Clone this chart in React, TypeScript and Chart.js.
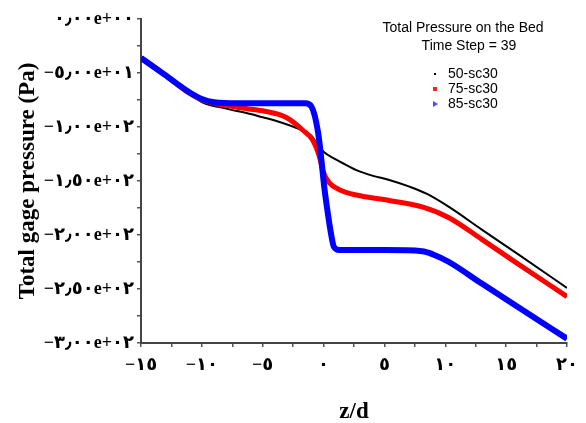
import React, { useEffect, useRef } from "react";
import { Chart, registerables } from "chart.js";

Chart.register(...registerables);

// ---- data ----
const seriesNames = ["50-sc30", "75-sc30", "85-sc30"];

const blackZ = [-15, -13, -11, -10, -8, -6, -5, -4, -2, -1, -0.5, 0, 1, 2, 2.7, 4, 5.4, 7, 8.5, 10.3, 13, 16, 20];
const blackP = [-36, -52, -69, -77, -83, -88, -91, -94, -102, -108, -116, -123, -130, -136, -140, -145, -149, -155, -162, -174, -195, -218, -249];

const redZ = [-15, -13, -11, -10, -9, -8, -7, -5, -3.5, -2.8, -1.7, -0.9, -0.33, -0.08, 0.5, 1.3, 2.7, 5.4, 8.1, 10.3, 13, 16, 20];
const redP = [-36, -52, -69, -75, -78, -80, -82, -85, -89, -93, -103, -112, -128, -140, -152, -158, -163, -168, -174, -184, -204, -227, -257];

const blueZ = [-15, -13, -11, -10, -9, -7, -5, -3, -2, -1.5, -1.0, -0.45, -0.2, 0.05, 0.35, 0.6, 0.85, 1.3, 5, 8.1, 9, 10.3, 13, 16, 20];
const blueP = [-36, -52, -68, -74, -77, -78, -78, -78, -78, -78, -81, -105, -128, -155, -180, -198, -211, -214, -214, -215, -218, -225, -245, -267, -296];

const xTickValues = [-15, -10, -5, 0, 5, 10, 15, 20];
const xTickLabels = ["−١٥", "−١٠", "−٥", "٠", "٥", "١٠", "١٥", "٢٠"];
const yTickValues = [0, -50, -100, -150, -200, -250, -300];
const yTickLabels = ["٠٫٠٠e+٠٠", "−٥٫٠٠e+٠١", "−١٫٠٠e+٠٢", "−١٫٥٠e+٠٢", "−٢٫٠٠e+٠٢", "−٢٫٥٠e+٠٢", "−٣٫٠٠e+٠٢"];

const legendTitle = ["Total Pressure on the Bed", "Time Step = 39"];
const xTitle = "z/d";
const yTitle = "Total gage pressure (Pa)";

const toPoints = (xs: number[], ys: number[]) => xs.map((x, i) => ({ x, y: ys[i] }));

const legendPlugin = {
  id: "customLegend",
  afterDraw(chart: any) {
    const ctx = chart.ctx as CanvasRenderingContext2D;
    const area = chart.chartArea;
    const cx = area.right - 104;
    ctx.save();
    ctx.fillStyle = "#000";
    ctx.font = '14px "Liberation Sans", Arial, sans-serif';
    ctx.textAlign = "center";
    ctx.textBaseline = "middle";
    ctx.fillText(legendTitle[0], cx, area.top + 9);
    ctx.fillText(legendTitle[1], cx + 6, area.top + 27);
    ctx.textAlign = "left";
    const mx = area.right - 132;
    const tx = area.right - 119;
    const ys = [area.top + 55, area.top + 70, area.top + 85];
    seriesNames.forEach((name, i) => {
      ctx.fillStyle = "#000";
      ctx.fillText(name, tx, ys[i]);
    });
    // markers
    ctx.fillStyle = "#000";
    ctx.fillRect(mx - 1, ys[0] - 1, 2, 2);
    ctx.fillStyle = "#ff2020";
    ctx.fillRect(mx - 2, ys[1] - 2, 4, 4);
    ctx.fillStyle = "#4a4aff";
    ctx.beginPath();
    ctx.moveTo(mx - 2, ys[2] - 3);
    ctx.lineTo(mx + 3, ys[2]);
    ctx.lineTo(mx - 2, ys[2] + 3);
    ctx.closePath();
    ctx.fill();
    ctx.restore();
  },
};

export default function App() {
  const ref = useRef<HTMLCanvasElement | null>(null);

  useEffect(() => {
    document.body.style.margin = "0";
    if (!ref.current) return;
    const tickFont = { family: '"Liberation Serif", "DejaVu Serif", "DejaVu Sans", serif', size: 18, weight: "bold" as const };
    const titleFont = { family: '"Liberation Serif", "Times New Roman", serif', size: 23, weight: "bold" as const };
    const chart = new Chart(ref.current, {
      type: "scatter",
      data: {
        datasets: [
          {
            label: seriesNames[0],
            data: toPoints(blackZ, blackP),
            showLine: true,
            borderColor: "#000000",
            borderWidth: 2,
            pointRadius: 0,
            cubicInterpolationMode: "monotone",
            order: 3,
          },
          {
            label: seriesNames[1],
            data: toPoints(redZ, redP),
            showLine: true,
            borderColor: "#ff0000",
            borderWidth: 5,
            pointRadius: 0,
            cubicInterpolationMode: "monotone",
            order: 2,
          },
          {
            label: seriesNames[2],
            data: toPoints(blueZ, blueP),
            showLine: true,
            borderColor: "#0000ff",
            borderWidth: 6,
            pointRadius: 0,
            cubicInterpolationMode: "monotone",
            order: 1,
          },
        ],
      },
      options: {
        animation: false,
        responsive: false,
        maintainAspectRatio: false,
        layout: { padding: { top: 19, right: 19, left: 0, bottom: 0 } },
        plugins: { legend: { display: false }, tooltip: { enabled: false } },
        scales: {
          x: {
            type: "linear",
            min: -15,
            max: 20,
            afterBuildTicks: (scale: any) => {
              const t = [];
              for (let v = -15; v <= 20; v += 2.5) t.push({ value: v });
              scale.ticks = t;
            },
            afterFit: (scale: any) => {
              scale.height = 80;
            },
            ticks: {
              autoSkip: false,
              maxRotation: 0,
              color: "#000",
              font: tickFont,
              padding: 8,
              callback: (v: any) => {
                const i = xTickValues.indexOf(Number(v));
                return i >= 0 ? xTickLabels[i] : "";
              },
            },
            grid: { display: true, drawOnChartArea: false, drawTicks: true, tickLength: 4, color: "#555", lineWidth: 1.5 },
            border: { display: true, color: "#444", width: 2 },
            title: { display: true, text: xTitle, color: "#000", font: titleFont, padding: { top: 0, bottom: -3 } },
          },
          y: {
            type: "linear",
            min: -300,
            max: 0,
            afterBuildTicks: (scale: any) => {
              const t = [];
              for (let v = -300; v <= 0; v += 25) t.push({ value: v });
              scale.ticks = t;
            },
            afterFit: (scale: any) => {
              scale.width = 141;
            },
            ticks: {
              autoSkip: false,
              color: "#000",
              font: tickFont,
              padding: 3,
              callback: (v: any) => {
                const i = yTickValues.indexOf(Number(v));
                return i >= 0 ? yTickLabels[i] : "";
              },
            },
            grid: { display: true, drawOnChartArea: false, drawTicks: true, tickLength: 4, color: "#555", lineWidth: 1.5 },
            border: { display: true, color: "#444", width: 2 },
            title: { display: true, text: yTitle, color: "#000", font: titleFont, padding: { top: 14, bottom: 4 } },
          },
        },
      },
      plugins: [legendPlugin],
    } as any);
    return () => chart.destroy();
  }, []);

  return (
    <div style={{ width: 586, height: 423, background: "#fff" }}>
      <canvas ref={ref} width={586} height={423} style={{ width: 586, height: 423 }} />
    </div>
  );
}
